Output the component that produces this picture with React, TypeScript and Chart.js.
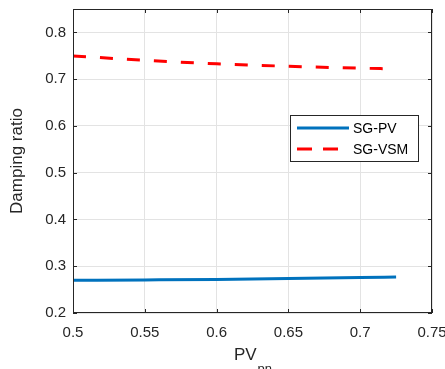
import React, { useEffect, useRef } from "react";
import { Chart, registerables } from "chart.js";

Chart.register(...registerables);

const pvX = [0.5, 0.55, 0.6, 0.65, 0.7, 0.725];
const sgPV = [0.27, 0.2708, 0.2718, 0.2735, 0.2757, 0.2772];
const vsmX = [0.5, 0.55, 0.6, 0.65, 0.7, 0.72];
const sgVSM = [0.7495, 0.7405, 0.7328, 0.7275, 0.7235, 0.7222];
const xTicks = [0.5, 0.55, 0.6, 0.65, 0.7, 0.75];
const yTicks = [0.2, 0.3, 0.4, 0.5, 0.6, 0.7, 0.8];
const seriesNames = ["SG-PV", "SG-VSM"];

const FONT = "'Liberation Sans', Arial, Helvetica, sans-serif";
const TXT = "#262626";

const framePlugin = {
  id: "frame",
  afterDraw(chart: any) {
    const ctx = chart.ctx as CanvasRenderingContext2D;
    const { left, right, top, bottom } = chart.chartArea;
    const xs = chart.scales.x;
    const ys = chart.scales.y;
    ctx.save();
    ctx.strokeStyle = TXT;
    ctx.lineWidth = 1;
    ctx.setLineDash([]);
    ctx.strokeRect(left + 0.5, top + 0.5, right - left - 1, bottom - top - 1);
    const tl = 4;
    ctx.beginPath();
    xTicks.forEach((v) => {
      const px = Math.round(xs.getPixelForValue(v)) + 0.5;
      ctx.moveTo(px, bottom);
      ctx.lineTo(px, bottom - tl);
      ctx.moveTo(px, top);
      ctx.lineTo(px, top + tl);
    });
    yTicks.forEach((v) => {
      const py = Math.round(ys.getPixelForValue(v)) + 0.5;
      ctx.moveTo(left, py);
      ctx.lineTo(left + tl, py);
      ctx.moveTo(right, py);
      ctx.lineTo(right - tl, py);
    });
    ctx.stroke();

    // legend
    const lx = 290, ly = 115, lw = 128, lh = 46;
    ctx.fillStyle = "#ffffff";
    ctx.fillRect(lx, ly, lw, lh);
    ctx.strokeStyle = TXT;
    ctx.lineWidth = 1;
    ctx.strokeRect(lx + 0.5, ly + 0.5, lw, lh);
    const rows = [
      { y: 128, color: "#0072BD", dash: [] as number[] },
      { y: 149, color: "#FF0000", dash: [15, 11] },
    ];
    rows.forEach((r, i) => {
      ctx.beginPath();
      ctx.strokeStyle = r.color;
      ctx.lineWidth = 3;
      ctx.setLineDash(r.dash);
      ctx.moveTo(297, r.y);
      ctx.lineTo(349, r.y);
      ctx.stroke();
      ctx.setLineDash([]);
      ctx.fillStyle = "#000000";
      ctx.font = `14px ${FONT}`;
      ctx.textAlign = "left";
      ctx.textBaseline = "middle";
      ctx.fillText(seriesNames[i], 353, r.y + 1);
    });

    // y title
    ctx.save();
    ctx.translate(22, (top + bottom) / 2);
    ctx.rotate(-Math.PI / 2);
    ctx.fillStyle = TXT;
    ctx.font = `17px ${FONT}`;
    ctx.textAlign = "center";
    ctx.textBaseline = "alphabetic";
    ctx.fillText("Damping ratio", 0, 0);
    ctx.restore();

    // x title with subscript
    ctx.fillStyle = TXT;
    ctx.font = `17px ${FONT}`;
    ctx.textAlign = "left";
    ctx.textBaseline = "alphabetic";
    const main = "PV";
    const wMain = ctx.measureText(main).width;
    ctx.font = `13px ${FONT}`;
    const wSub = ctx.measureText("pn").width;
    const cx = (left + right) / 2;
    const startX = cx - (wMain + wSub) / 2;
    ctx.font = `17px ${FONT}`;
    ctx.fillText(main, startX, 360);
    ctx.font = `13px ${FONT}`;
    ctx.fillText("pn", startX + wMain + 1, 373);
    ctx.restore();
  },
};

export default function App() {
  const ref = useRef<HTMLCanvasElement | null>(null);
  useEffect(() => {
    document.body.style.margin = "0";
    document.body.style.overflow = "hidden";
    if (!ref.current) return;
    const chart = new Chart(ref.current, {
      type: "line",
      data: {
        datasets: [
          {
            label: seriesNames[0],
            data: pvX.map((x, i) => ({ x, y: sgPV[i] })),
            borderColor: "#0072BD",
            borderWidth: 3,
            pointRadius: 0,
            cubicInterpolationMode: "monotone",
            fill: false,
          },
          {
            label: seriesNames[1],
            data: vsmX.map((x, i) => ({ x, y: sgVSM[i] })),
            borderColor: "#FF0000",
            borderWidth: 3,
            borderDash: [13, 14],
            pointRadius: 0,
            cubicInterpolationMode: "monotone",
            fill: false,
          },
        ],
      },
      options: {
        responsive: false,
        animation: false,
        devicePixelRatio: 1,
        layout: { padding: { left: 0, right: 13, top: 9, bottom: 0 } },
        plugins: { legend: { display: false }, tooltip: { enabled: false } },
        scales: {
          x: {
            type: "linear",
            min: 0.5,
            max: 0.75,
            afterBuildTicks: (s: any) => {
              s.ticks = xTicks.map((v) => ({ value: v }));
            },
            afterFit: (s: any) => {
              s.height = 72;
              s.paddingLeft = 0;
              s.paddingRight = 0;
            },
            grid: { color: "#e3e3e3", drawTicks: false, lineWidth: 1 },
            border: { display: false },
            ticks: {
              padding: 11,
              color: TXT,
              font: { family: FONT, size: 15 },
              maxRotation: 0,
              autoSkip: false,
              callback: (v: any) => String(Number(v)),
            },
          },
          y: {
            type: "linear",
            min: 0.2,
            max: 0.85,
            afterBuildTicks: (s: any) => {
              s.ticks = yTicks.map((v) => ({ value: v }));
            },
            afterFit: (s: any) => {
              s.width = 73;
              s.paddingTop = 0;
              s.paddingBottom = 0;
            },
            grid: { color: "#e3e3e3", drawTicks: false, lineWidth: 1 },
            border: { display: false },
            ticks: {
              padding: 7,
              color: TXT,
              font: { family: FONT, size: 15 },
              autoSkip: false,
              callback: (v: any) => String(Number(v)),
            },
          },
        },
      },
      plugins: [framePlugin],
    } as any);
    return () => chart.destroy();
  }, []);
  return (
    <div style={{ width: 445, height: 369, overflow: "hidden", position: "relative" }}>
      <canvas ref={ref} width={445} height={385} style={{ width: 445, height: 385, display: "block" }} />
    </div>
  );
}
